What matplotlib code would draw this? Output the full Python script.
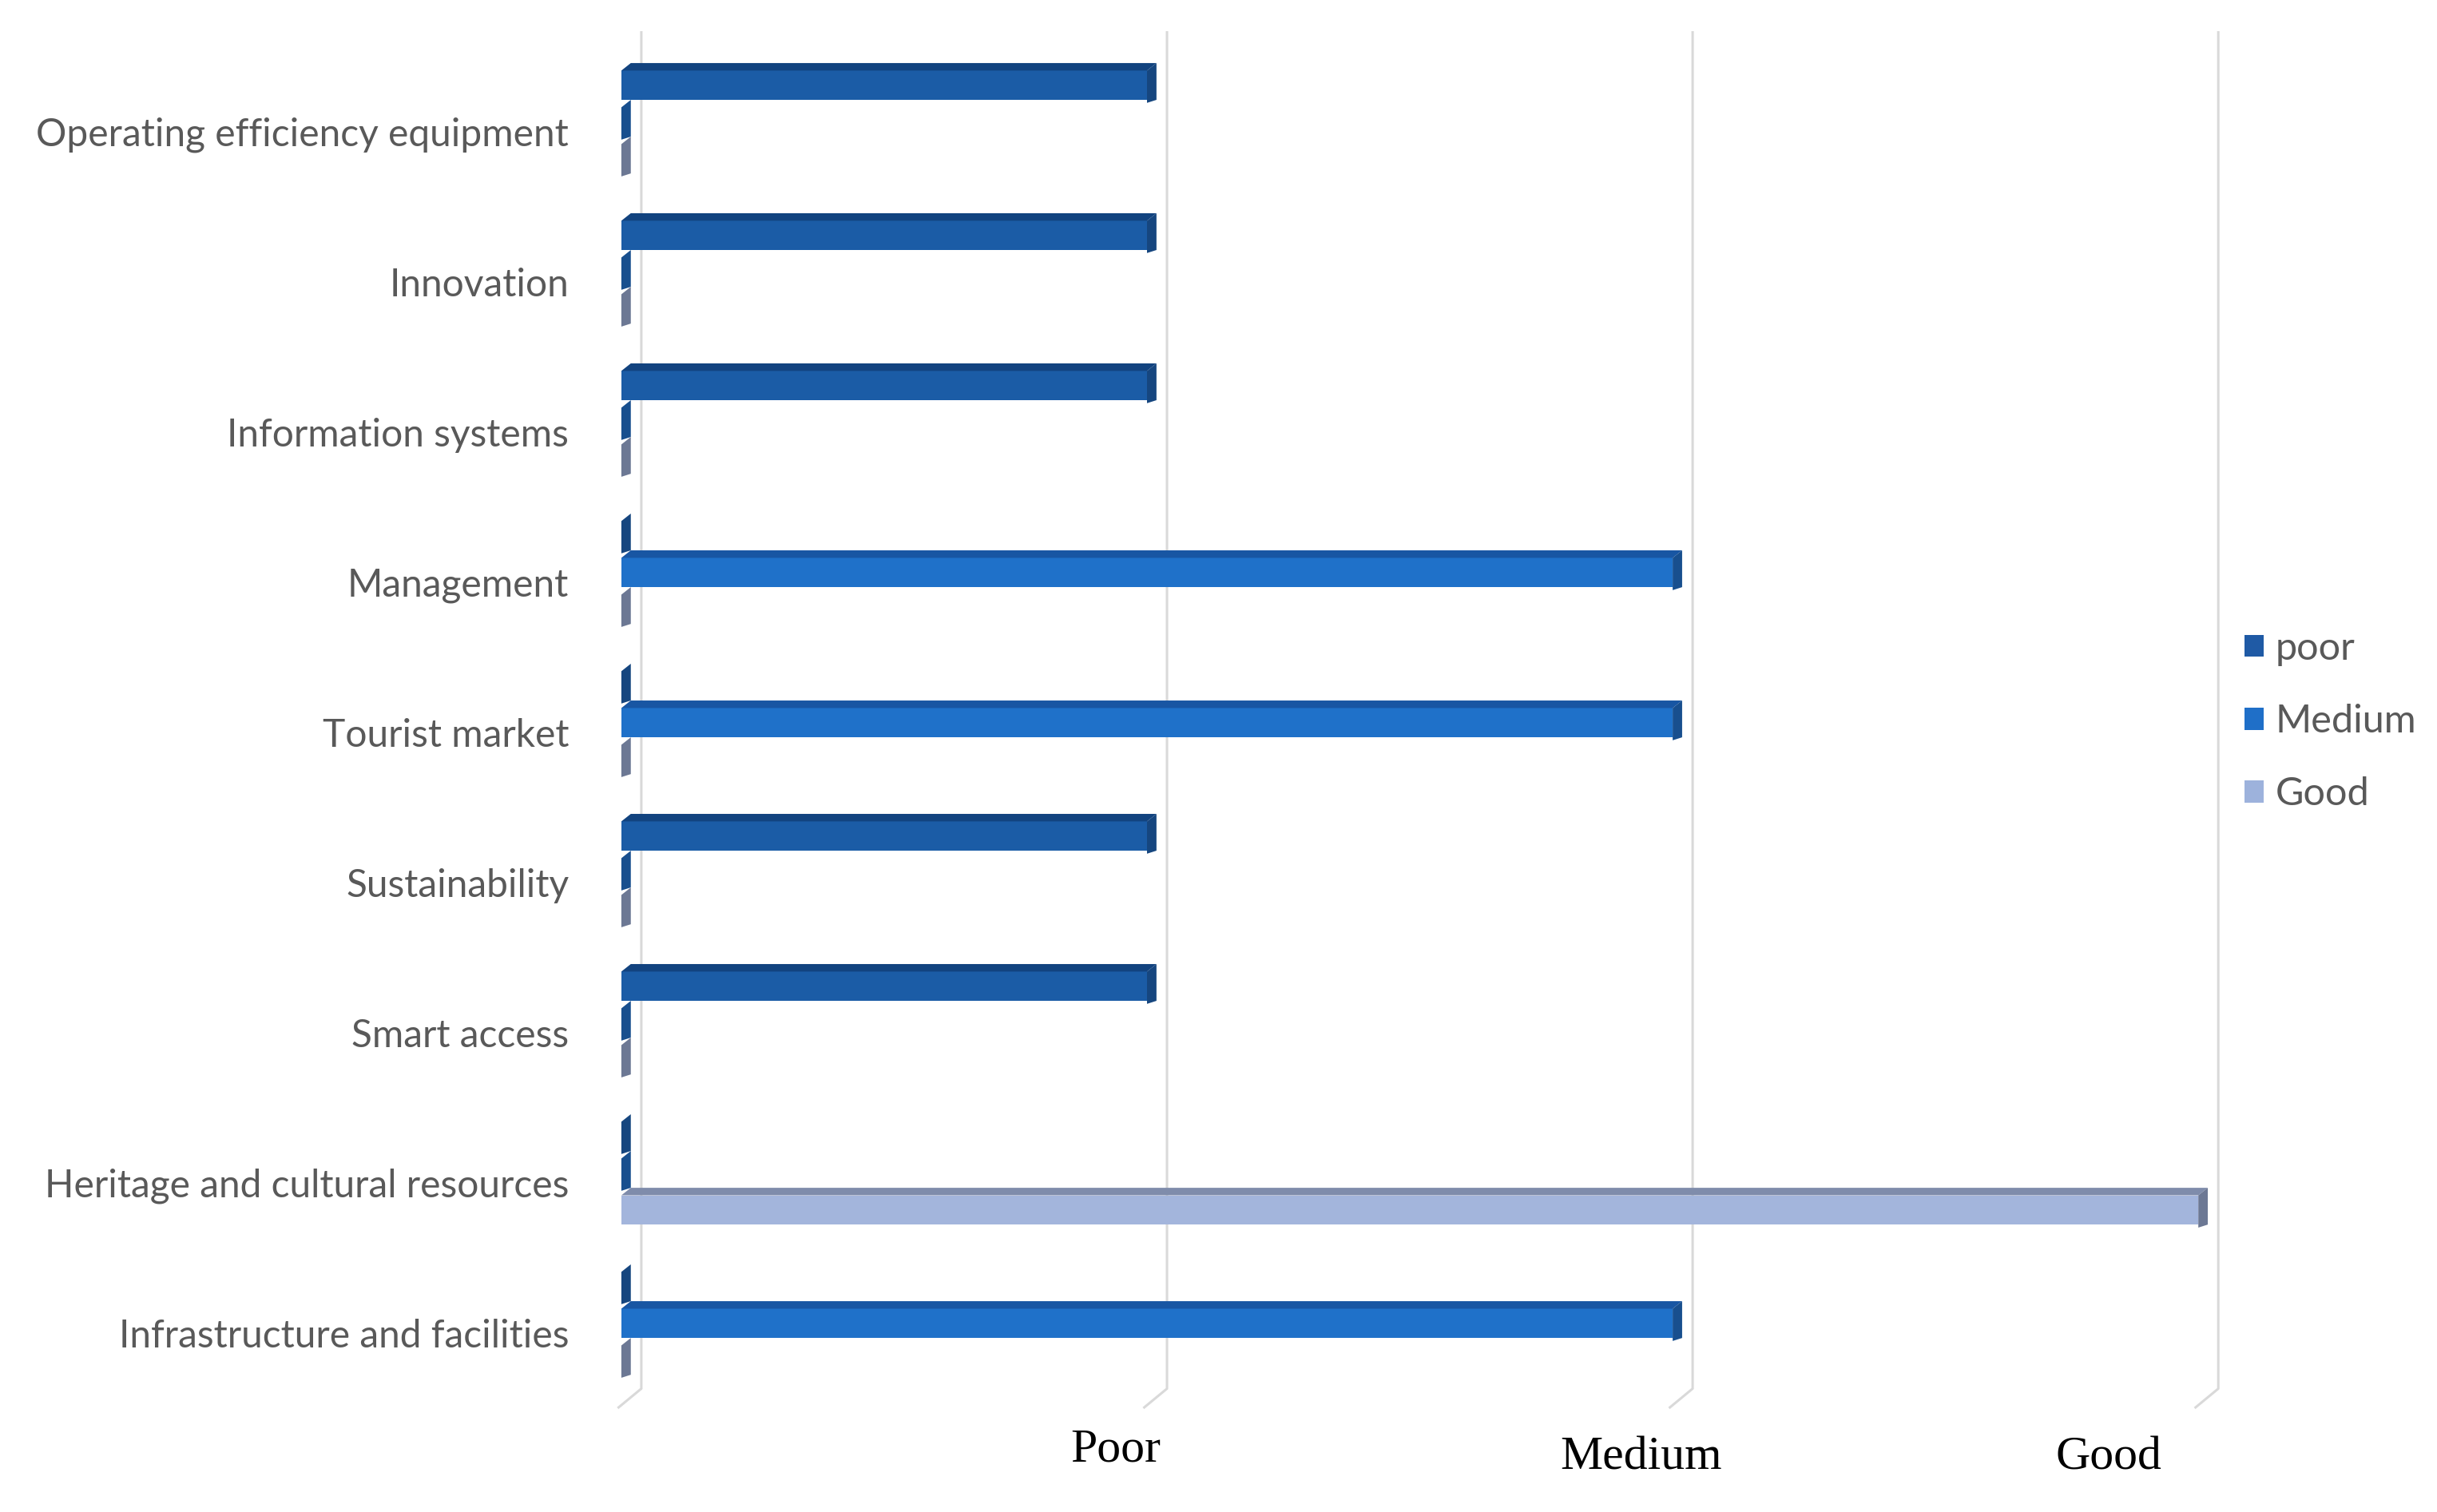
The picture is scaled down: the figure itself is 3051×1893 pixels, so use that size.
import matplotlib
matplotlib.use("Agg")
import matplotlib.pyplot as plt
from matplotlib.patches import Polygon, Patch

# ---- data (top to bottom) ----
categories = [
    "Operating efficiency equipment",
    "Innovation",
    "Information systems",
    "Management",
    "Tourist market",
    "Sustainability",
    "Smart access",
    "Heritage and cultural resources",
    "Infrastructure and facilities",
]
series_names = ["poor", "Medium", "Good"]
poor = [1, 1, 1, 0, 0, 1, 1, 0, 0]
medium = [0, 0, 0, 2, 2, 0, 0, 0, 2]
good = [0, 0, 0, 0, 0, 0, 0, 3, 0]
level_labels = ["Poor", "Medium", "Good"]
level_values = [1, 2, 3]

# front / top / side face colours per series
front = ["#1b5ca6", "#1f71c9", "#a3b5dc"]
top = ["#12437f", "#1856a3", "#7f8cab"]
side = ["#16467f", "#184f8e", "#6c7894"]
legend_colors = ["#1f5aa5", "#1f6fc8", "#9db2dc"]

W, H, DPI = 3051, 1893, 100
fig = plt.figure(figsize=(W / DPI, H / DPI), dpi=DPI)
ax = fig.add_axes([745 / W, 1 - 1763 / H, 2073 / W, (1763 - 39) / H])
ax.set_xlim(-0.05, 3.1)
ax.set_ylim(8.5, -0.67)
ax.axis("off")

# 3D depth of the bars and grid offset
dx, dy = 0.018, 0.05
slot = 0.245
shift = -0.09
grid_off = 0.038

# gridlines with a slanted "floor" tail
for k in [0] + level_values:
    gx = k + grid_off
    ax.plot([gx, gx, gx - 0.045], [-0.67, 8.37, 8.5], color="#d9d9d9", lw=2.2,
            solid_capstyle="butt", clip_on=False, zorder=1)

for s, vals in enumerate([poor, medium, good]):
    for i, v in enumerate(vals):
        yc = i + shift + (s - 1) * slot
        y_top = yc - slot / 2
        y_bot = yc + slot / 2
        yf = y_top + dy
        # front face
        if v > 0:
            ax.add_patch(Polygon([(0, yf), (v, yf), (v, y_bot), (0, y_bot)],
                                 closed=True, fc=front[s], ec="none", zorder=3))
            ax.add_patch(Polygon([(0, yf), (v, yf), (v + dx, y_top), (dx, y_top)],
                                 closed=True, fc=top[s], ec="none", zorder=3))
        # end face (also visible for zero-length bars)
        ax.add_patch(Polygon([(v, yf), (v + dx, y_top), (v + dx, y_bot), (v, y_bot + dy * 0.4)],
                             closed=True, fc=side[s], ec="none", zorder=4))

# category labels
for i, c in enumerate(categories):
    ax.text(-0.1, i + 0.02, c, ha="right", va="center", fontsize=34.5, family="Lato",
            color="#595959")

# level labels under the chart
for lab, xpos, ypos in zip(level_labels, [0.94, 1.94, 2.83], [8.78, 8.83, 8.83]):
    ax.text(xpos, ypos, lab, ha="center", va="center", fontsize=43,
            family="Liberation Serif", color="black", clip_on=False)

handles = [Patch(fc=c, ec="none") for c in legend_colors]
fig.legend(handles, series_names, loc="center left",
           bbox_to_anchor=(2810 / W, 1 - 903 / H), frameon=False,
           prop={"family": "Lato", "size": 35}, labelcolor="#595959",
           handlelength=0.5, handleheight=0.5, handletextpad=0.3,
           labelspacing=0.97, borderpad=0, borderaxespad=0)

fig.savefig("out.png", dpi=DPI, facecolor="white")
